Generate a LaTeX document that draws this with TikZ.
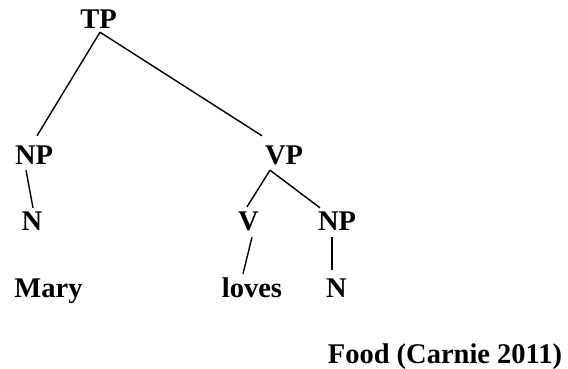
\documentclass[tikz,border=0pt]{standalone}
\usepackage{fontspec}
\setmainfont{Liberation Serif}
\usepackage{tikz}
\usetikzlibrary{positioning}

\begin{document}
\begin{tikzpicture}[
		x=1pt, y=-1pt,
		cat/.style={font=\fontsize{28.5}{34}\selectfont\bfseries, inner sep=0pt, text height=19pt, text depth=0pt, anchor=base},
		branch/.style={line width=1.4pt}
		]
		\useasboundingbox (0,0) rectangle (568,369);

		% --- categories ---
		\node[cat] (TP) at (98.5, 29) {TP};
		\node[cat] (NP) at (34, 164) {NP};
		\node[cat] (VP) at (284, 164) {VP};
		\node[cat] (N) at (32, 230) {N};
		\node[cat] (V) at (248.5, 230) {V};
		\node[cat] (NP2) at (337, 230) {NP};
		\node[cat] (N2) at (336.5, 297) {N};

		% --- words ---
		\node[cat] (Mary) at (48.5, 297) {Mary};
		\node[cat] (loves) at (252, 297) {loves};
		\node[cat] (cite) at (445, 363) {Food (Carnie 2011)};

		\draw[branch] ([xshift=1.5pt,yshift=-3pt]TP.south) -- ([xshift=3pt,yshift=9pt]NP.north);
		\draw[branch] ([xshift=1.5pt,yshift=-3pt]TP.south) -- ([xshift=-22pt,yshift=9pt]VP.north);
		\draw[branch] ([xshift=-8pt,yshift=-6pt]NP.south) -- ([xshift=1pt,yshift=3pt]N.north);
		\draw[branch] ([xshift=-14pt,yshift=-6pt]VP.south) -- ([xshift=-1.5pt,yshift=4pt]V.north);
		\draw[branch] ([xshift=-14pt,yshift=-6pt]VP.south) -- ([xshift=-17pt,yshift=3pt]NP2.north);
		\draw[branch] ([xshift=3.5pt,yshift=-7pt]V.south) -- ([xshift=-9pt,yshift=4pt]loves.north);
		\draw[branch] ([xshift=-5pt,yshift=-7pt]NP2.south) -- ([xshift=-4.5pt,yshift=8pt]N2.north);

	\end{tikzpicture}
\end{document}
